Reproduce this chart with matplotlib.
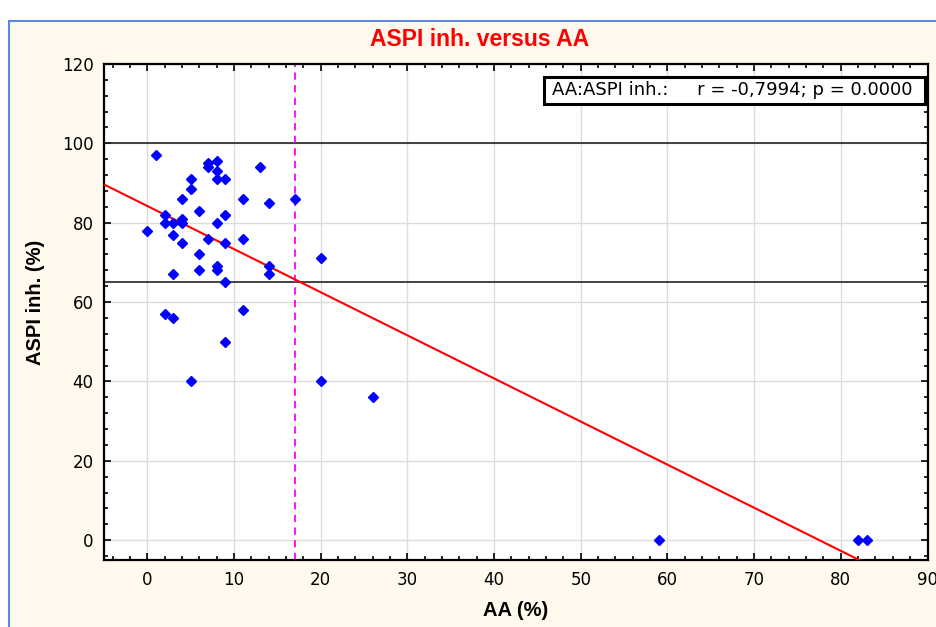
import numpy as np
import matplotlib.pyplot as plt
from matplotlib.patches import Rectangle
from matplotlib.ticker import MultipleLocator

# AA (%) and ASPI inhibition (%) per sample
aa = [1, 7, 7, 8, 8, 13, 5, 8, 9, 5,
      4, 11, 17, 14, 6, 2, 9, 2, 3, 4,
      4, 8, 0, 3, 7, 11, 4, 9, 6, 8,
      8, 6, 14, 14, 3, 9, 20, 2, 3, 11,
      9, 5, 20, 26, 59, 82, 83]
aspi = [97, 95, 94, 95.5, 93, 94, 91, 91, 91, 88.5,
        86, 86, 86, 85, 83, 82, 82, 80, 80, 81,
        80, 80, 78, 77, 76, 76, 75, 75, 72, 69,
        68, 68, 69, 67, 67, 65, 71, 57, 56, 58,
        50, 40, 40, 36, 0, 0, 0]

ref_levels = [100, 65]   # horizontal reference lines
aa_cutoff = 17           # vertical dashed line
stats_text = "AA:ASPI inh.:     r = -0,7994; p = 0.0000"

plt.rcParams['font.family'] = ['DejaVu Sans']

fig = plt.figure(figsize=(9.36, 6.27), dpi=100, facecolor='white')
# cream panel with blue frame behind the chart
fig.patches.append(Rectangle((9 / 936, -0.05), 1.0, 1 - 21 / 627 + 0.05,
                             transform=fig.transFigure, facecolor='#FFF9EE',
                             edgecolor='#5B8BD6', linewidth=1.5, zorder=-10))

ax = fig.add_axes([104 / 936, 1 - 560 / 627, 823.5 / 936, 496 / 627])
ax.set_facecolor('white')

ax.set_xlim(-5, 90)
ax.set_ylim(-5, 120)
ax.xaxis.set_major_locator(MultipleLocator(10))
ax.xaxis.set_minor_locator(MultipleLocator(2))
ax.yaxis.set_major_locator(MultipleLocator(20))
ax.yaxis.set_minor_locator(MultipleLocator(4))
ax.tick_params(which='both', direction='in', top=True, right=True, width=1.2, colors='black')
ax.tick_params(which='major', length=5, labelsize=12)
ax.tick_params(which='minor', length=3)
ax.tick_params(axis='x', pad=8)
ax.tick_params(axis='y', pad=7.5)
ax.grid(True, which='major', color='#DCDCDC', linewidth=1, zorder=0)
for s in ax.spines.values():
    s.set_linewidth(1.6)

for lvl in ref_levels:
    ax.axhline(lvl, color='#222222', linewidth=1.2, zorder=2)
ax.axvline(aa_cutoff, color='#FF00FF', linewidth=1.3, linestyle=(0, (4, 3)), zorder=2)

# least squares line through the points
slope, icpt = np.polyfit(aa, aspi, 1)
xs = np.array([-5, 90])
ax.plot(xs, icpt + slope * xs, color='red', linewidth=1.5, zorder=3)

ax.plot(aa, aspi, linestyle='none', marker='D', markersize=5,
        color='#0000FF', zorder=4, clip_on=False)

# correlation box
ax.add_patch(Rectangle((0.5343, 0.9194), 0.4627, 0.0544, transform=ax.transAxes,
                       facecolor='white', edgecolor='black', linewidth=2.2, zorder=6))
ax.text(0.5440, 0.9466, stats_text, transform=ax.transAxes, ha='left', va='center',
        fontsize=13, zorder=7)

bold_font = ['Liberation Sans', 'DejaVu Sans']
ax.set_xlabel("AA (%)", fontsize=14.5, fontweight='bold', family=bold_font)
ax.xaxis.set_label_coords(0.5, -0.082)
ax.set_ylabel("ASPI inh. (%)", fontsize=14.5, fontweight='bold', family=bold_font)
ax.yaxis.set_label_coords(-0.072, 0.52)

fig.text(480 / 936, 1 - 39 / 627, "ASPI inh. versus AA", color='red', fontsize=16.5,
         fontweight='bold', family=bold_font, ha='center', va='center')

fig.savefig('out.png', dpi=100, facecolor=fig.get_facecolor())
